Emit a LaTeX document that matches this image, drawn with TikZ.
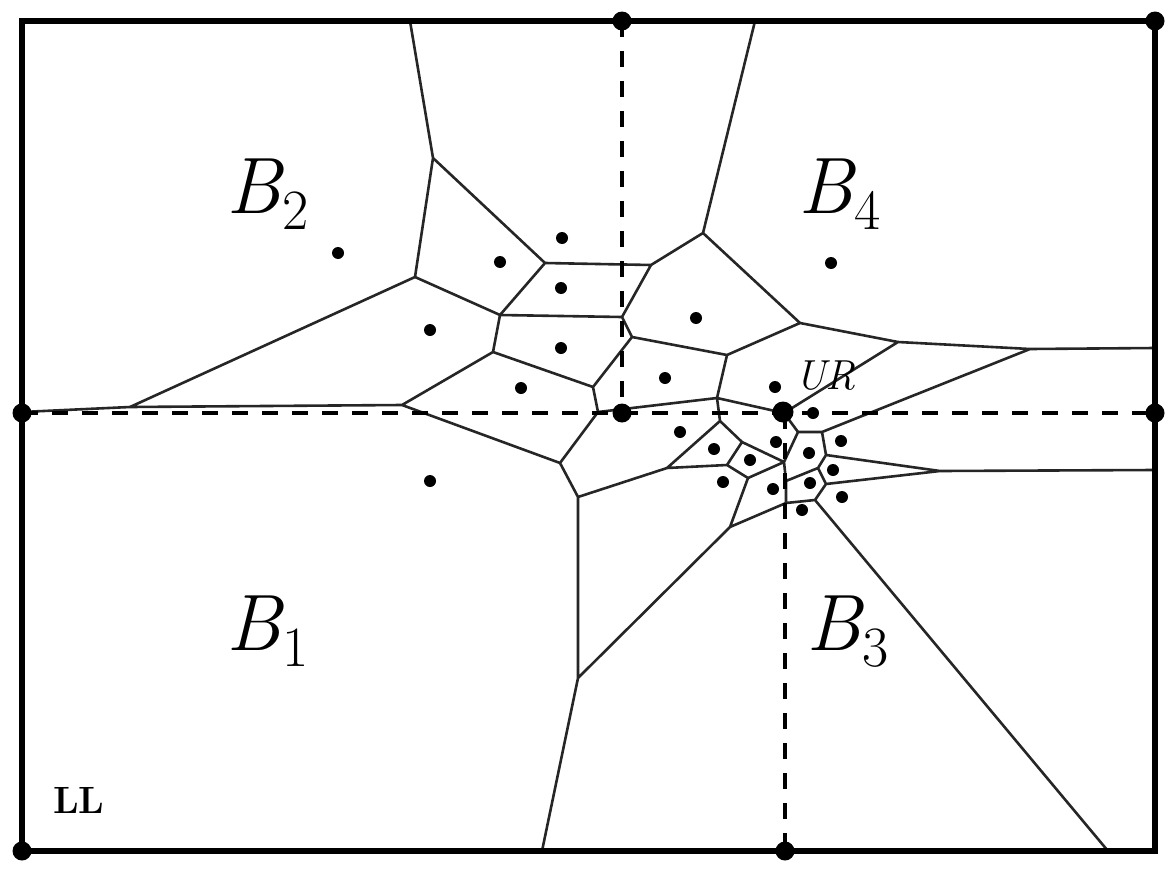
\documentclass[tikz,border=0pt]{standalone}
\newcommand{\blab}[2]{{\itshape B}\kern0.01em\raisebox{-0.2em}{\fontsize{57}{60}\selectfont #2}}
\begin{document}
\begin{tikzpicture}[x=1pt,y=-1pt,
  edge/.style={line width=2.6pt, line cap=round, line join=round, black!85},
  framebox/.style={line width=5.8pt, line join=miter},
  quad/.style={line width=4.4pt, dash pattern=on 16pt off 14pt},
  site/.style={circle, fill=black, inner sep=0pt, minimum size=12pt},
  bigdot/.style={circle, fill=black, inner sep=0pt, minimum size=19pt},
  region/.style={anchor=base west, inner sep=0pt, font=\fontsize{80}{84}\selectfont},
]
\useasboundingbox (0,0) rectangle (1170,870);
% ---------- Voronoi vertices ----------
\coordinate (t1) at (410,21);   \coordinate (t2) at (755,21);
\coordinate (l1) at (22,412);
\coordinate (r1) at (1155,348); \coordinate (r2) at (1155,470);
\coordinate (b1) at (542,851);  \coordinate (b2) at (1108,851);
\coordinate (v1) at (433,158);  \coordinate (v2) at (415,277);
\coordinate (v3) at (545,263);  \coordinate (v4) at (651,265);
\coordinate (v5) at (703,233);  \coordinate (v6) at (800,323);
\coordinate (v7) at (130,407);  \coordinate (v8) at (402,405);
\coordinate (v9) at (500,315);  \coordinate (v10) at (622,317);
\coordinate (v11) at (493,352); \coordinate (v12) at (593,387);
\coordinate (v13) at (632,337); \coordinate (v14) at (727,355);
\coordinate (v15) at (898,342); \coordinate (v16) at (1030,349);
\coordinate (v17) at (717,398); \coordinate (v18) at (598,412);
\coordinate (v19) at (560,463); \coordinate (v20) at (578,497);
\coordinate (v21) at (578,678); \coordinate (v22) at (730,527);
\coordinate (v23) at (667,468); \coordinate (v24) at (720,421);
\coordinate (v25) at (727,465); \coordinate (v26) at (742,442);
\coordinate (v27) at (748,478); \coordinate (v28) at (784,413);
\coordinate (v29) at (798,432); \coordinate (v30) at (822,432);
\coordinate (v31) at (784,462); \coordinate (v32) at (786,481);
\coordinate (v33) at (818,468); \coordinate (v34) at (826,455);
\coordinate (v35) at (940,471); \coordinate (v36) at (826,484);
\coordinate (v38) at (815,500); \coordinate (v39) at (786,503);
% ---------- Voronoi edges ----------
\draw[edge] (t1)--(v1) (v1)--(v2) (v1)--(v3) (v3)--(v4) (v4)--(v5) (v5)--(t2)
  (v5)--(v6) (v2)--(v7) (v7)--(l1) (v7)--(v8) (v2)--(v9) (v3)--(v9)
  (v9)--(v10) (v9)--(v11) (v8)--(v11) (v11)--(v12) (v4)--(v10) (v10)--(v13)
  (v13)--(v12) (v13)--(v14) (v14)--(v6) (v6)--(v15) (v15)--(v16) (v16)--(r1)
  (v14)--(v17) (v12)--(v18) (v18)--(v19) (v8)--(v19) (v18)--(v17)
  (v19)--(v20) (v20)--(v21) (v21)--(b1) (v21)--(v22) (v20)--(v23)
  (v23)--(v24) (v17)--(v24) (v23)--(v25) (v24)--(v26) (v26)--(v25)
  (v25)--(v27) (v27)--(v22) (v17)--(v28) (v28)--(v15) (v28)--(v29)
  (v29)--(v30) (v30)--(v16) (v29)--(v31) (v26)--(v31) (v31)--(v27)
  (v31)--(v32) (v32)--(v33) (v33)--(v34) (v30)--(v34) (v34)--(v35)
  (v35)--(r2) (v33)--(v36) (v36)--(v35) (v36)--(v38) (v38)--(b2)
  (v38)--(v39) (v39)--(v32) (v39)--(v22);
% ---------- quadtree split lines ----------
\coordinate (qtop) at (622,21);   \coordinate (qmid) at (622,413);
\coordinate (qleft) at (22,413);  \coordinate (qright) at (1155,413);
\coordinate (qur) at (785,413);   \coordinate (qbot) at (785,851);
\draw[quad] (qleft)--(qright);
\draw[quad] (qtop)--(qmid);
\draw[quad] (qur)--(qbot);
% ---------- frame ----------
\draw[framebox] (22,21) rectangle (1155,851);
% ---------- corner / split points ----------
\node[bigdot] (p1) at (qtop) {};
\node[bigdot] (p2) at (1155,21) {};
\node[bigdot] (p3) at (qleft) {};
\node[bigdot] (p4) at (qright) {};
\node[bigdot] (p5) at (22,851) {};
\node[bigdot] (p6) at (qbot) {};
\node[bigdot] (p7) at (qmid) {};
\node[bigdot, minimum size=21pt] (p8) at (783,412) {};
% ---------- sites ----------
\foreach \n/\x/\y in {a/338/253, b/430/330, c/430/481, d/500/262, e/562/238,
  f/561/288, g/561/348, h/521/388, i/665/378, j/696/318, k/831/263,
  m/775/387, n/813/413, c1/680/432, c2/714/449, c3/750/460, c4/723/482,
  c5/776/442, c6/809/453, c7/841/441, c8/833/470, c9/810/483, c10/773/489,
  c11/842/497, c12/802/510}
  \node[site] (s\n) at (\x,\y) {};
% ---------- labels ----------
\node[region] (B2) at (226,213) {\blab{B}{2}};
\node[region] (B4) at (798,213) {\blab{B}{4}};
\node[region] (B1) at (226,650) {\blab{B}{1}};
\node[region] (B3) at (806,650) {\blab{B}{3}};
\node[anchor=base west, inner sep=0pt, font=\fontsize{42}{44}\selectfont\itshape] (UR) at (795,389) {UR};
\node[anchor=base west, inner sep=0pt, font=\fontsize{38}{40}\selectfont\bfseries] (LL) at (53,813) {LL};
\end{tikzpicture}
\end{document}
